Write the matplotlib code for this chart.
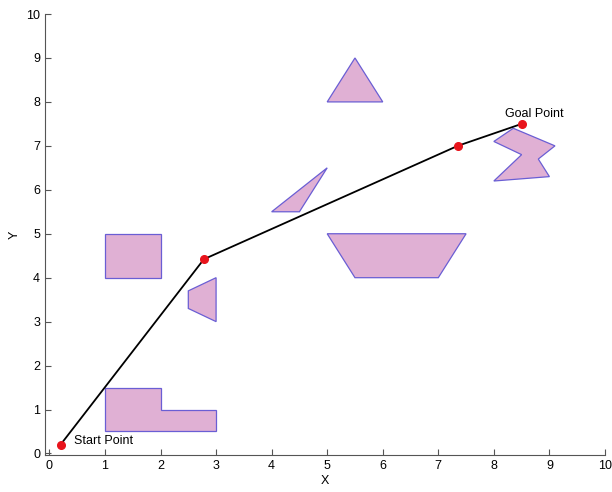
import matplotlib.pyplot as plt
from matplotlib.patches import Polygon

plt.rcParams['font.family'] = ['Liberation Sans', 'DejaVu Sans']

# obstacles (polygon vertices)
obstacles = [
    [(1, 0.5), (1, 1.5), (2, 1.5), (2, 1), (3, 1), (3, 0.5)],
    [(1, 4), (2, 4), (2, 5), (1, 5)],
    [(3, 4), (2.5, 3.7), (2.5, 3.3), (3, 3)],
    [(4, 5.5), (4.5, 5.5), (5, 6.5)],
    [(5, 5), (7.5, 5), (7, 4), (5.5, 4)],
    [(5, 8), (6, 8), (5.5, 9)],
    [(8, 7.1), (8.35, 7.4), (9.1, 7.0), (8.8, 6.7), (9.0, 6.3), (8.0, 6.2), (8.5, 6.8)],
]

# path through waypoints
path_x = [0.2, 2.78, 7.35, 8.5]
path_y = [0.2, 4.42, 7.0, 7.5]

fig = plt.figure(figsize=(6.12, 4.92), dpi=100)
ax = fig.add_axes([0.0735, 0.0752, 0.915, 0.8963])

for pts in obstacles:
    ax.add_patch(Polygon(pts, closed=True, facecolor='#e0b0d4', edgecolor='#6a5ed4', linewidth=0.9))

ax.plot(path_x, path_y, 'k-', linewidth=1.3)
ax.plot(path_x, path_y, 'o', color='#e8141c', markersize=5.5)

ax.text(path_x[0] + 0.25, path_y[0] + 0.02, 'Start Point', fontsize=9)
ax.text(path_x[-1] - 0.3, path_y[-1] + 0.15, 'Goal Point', fontsize=9)

ax.set_xlim(-0.08, 10)
ax.set_ylim(-0.035, 10)
ax.set_xticks(range(0, 11))
ax.set_yticks(range(0, 11))
ax.tick_params(direction='in', length=4, labelsize=9, color='#555555')
ax.spines['top'].set_visible(False)
ax.spines['right'].set_visible(False)
for s in ['left', 'bottom']:
    ax.spines[s].set_color('#555555')
ax.set_xlabel('X', fontsize=9, labelpad=2)
ax.set_ylabel('Y', fontsize=9, labelpad=4)

fig.savefig('out.png', dpi=100)
